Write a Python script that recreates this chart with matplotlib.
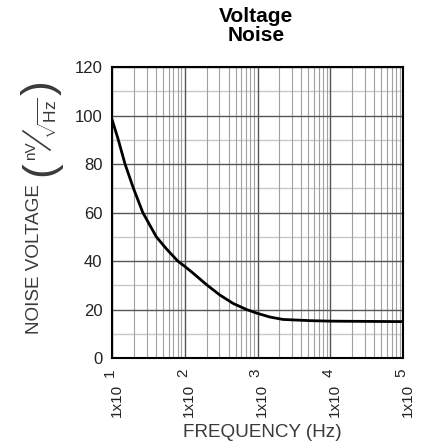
import numpy as np
import matplotlib
matplotlib.use("Agg")
import matplotlib.pyplot as plt
import matplotlib.transforms as mtransforms
from matplotlib.lines import Line2D
from matplotlib.ticker import LogLocator, NullFormatter

plt.rcParams['font.family'] = ['Liberation Sans', 'DejaVu Sans']
plt.rcParams['mathtext.fontset'] = 'custom'
plt.rcParams['mathtext.rm'] = 'Liberation Sans'
plt.rcParams['mathtext.it'] = 'Liberation Sans'
plt.rcParams['mathtext.bf'] = 'Liberation Sans:bold'

# Data
freq_hz = [10, 11.4, 12.2, 15.1, 19.7, 26.5, 40.6, 56, 80, 100, 130, 200, 303,
           462, 706, 1000, 1480, 2240, 5270, 10000, 100000]
noise_nv = [98.4, 92.9, 90.0, 80.0, 70.0, 60.0, 50.0, 45.0, 40.0, 37.8, 35.0, 30.2,
            26.0, 22.5, 20.0, 18.4, 16.9, 15.9, 15.4, 15.2, 15.0]
x_ticks = [1e1, 1e2, 1e3, 1e4, 1e5]
x_tick_mantissa = ['1x10', '1x10', '1x10', '1x10', '1x10']
x_tick_exponent = ['1', '2', '3', '4', '5']
y_ticks = [0, 20, 40, 60, 80, 100, 120]
y_minor = [10, 30, 50, 70, 90, 110]

W, H = 429, 448
fig = plt.figure(figsize=(W/100, H/100), dpi=100)
ax = fig.add_axes([112/W, 1-358/H, (403-112)/W, (358-67)/H])

ax.set_xscale('log')
ax.set_xlim(10, 1e5)
ax.set_ylim(0, 120)

# grid
for yv in y_minor:
    ax.axhline(yv, color='#c8c8c8', lw=1.0, zorder=1)
for yv in y_ticks:
    ax.axhline(yv, color='#555555', lw=1.0, zorder=2)
for dec in [10, 100, 1000, 10000]:
    for m in range(2, 10):
        ax.axvline(dec*m, color='#a0a0a0', lw=0.8, zorder=1)
for xv in x_ticks:
    ax.axvline(xv, color='#555555', lw=1.0, zorder=2)

ax.plot(freq_hz, noise_nv, color='black', lw=2.0, zorder=3,
        solid_capstyle='round', solid_joinstyle='round')

ax.set_xticks(x_ticks)
ax.set_xticklabels([])
ax.xaxis.set_minor_locator(LogLocator(base=10, subs=range(2, 10)))
ax.xaxis.set_minor_formatter(NullFormatter())
ax.set_yticks(y_ticks)
ax.set_yticklabels([str(v) for v in y_ticks], fontsize=12, color='#222222')
ax.tick_params(which='both', length=0)
ax.tick_params(axis='y', pad=7)

for s in ax.spines.values():
    s.set_linewidth(1.5)
    s.set_color('black')

# x tick labels: 1x10 with a superscript exponent
blend = mtransforms.blended_transform_factory(ax.transData, ax.transAxes)
for xv, man, ex in zip(x_ticks, x_tick_mantissa, x_tick_exponent):
    t_main = mtransforms.offset_copy(blend, fig=fig, x=4.5, y=-26, units='dots')
    ax.text(xv, 0, man, transform=t_main, rotation=90, ha='center', va='top',
            fontsize=11, color='#222222', clip_on=False)
    t_exp = mtransforms.offset_copy(blend, fig=fig, x=-2, y=-10, units='dots')
    ax.text(xv, 0, ex, transform=t_exp, rotation=90, ha='center', va='top',
            fontsize=11, color='#222222', clip_on=False)

fig.text(256/W, 1-26/H, 'Voltage\nNoise', ha='center', va='center',
         fontsize=15, fontweight='bold', linespacing=1.05)
fig.text(262/W, 1-432/H, 'FREQUENCY (Hz)', ha='center', va='center',
         fontsize=13.6, color='#3a3a3a')
fig.text(35/W, 1-259/H, 'NOISE VOLTAGE', ha='center', va='center',
         rotation=90, fontsize=13.6, color='#3a3a3a')

# unit (nV / sqrt(Hz)) drawn rotated
fig.text(41/W, 1-169/H, '(', ha='center', va='center', rotation=90,
         fontsize=32, color='#3a3a3a')
fig.text(41/W, 1-88/H, ')', ha='center', va='center', rotation=90,
         fontsize=32, color='#3a3a3a')
fig.text(31/W, 1-151/H, 'nV', ha='center', va='center', rotation=90,
         fontsize=11, color='#3a3a3a')
fig.text(48/W, 1-118/H, r'$\sqrt{\mathrm{Hz}}$', ha='center', va='center',
         rotation=90, fontsize=12.5, color='#3a3a3a')
fig.add_artist(Line2D([23/W, 50/W], [1-131/H, 1-150/H], transform=fig.transFigure,
                      color='#3a3a3a', lw=1.2))

fig.savefig('out.png', dpi=100)
